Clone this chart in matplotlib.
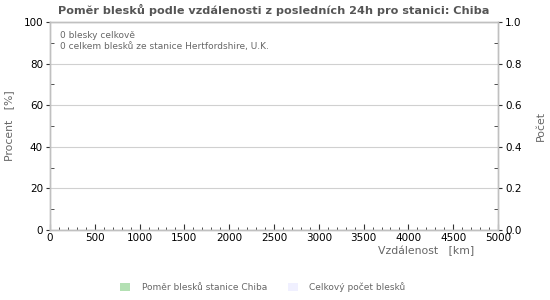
import matplotlib.pyplot as plt
import matplotlib.patches as mpatches
import numpy as np

# data: no lightning in the last 24h, so both series are empty
distance_km = np.arange(0, 5001, 100)
station_ratio = np.zeros(len(distance_km))
total_count = np.zeros(len(distance_km))

title = "Poměr blesků podle vzdálenosti z posledních 24h pro stanici: Chiba"
info_lines = ["0 blesky celkově", "0 celkem blesků ze stanice Hertfordshire, U.K."]
legend_labels = ["Poměr blesků stanice Chiba", "Celkový počet blesků"]

grey = "#c0c0c0"
text_grey = "#666666"

fig = plt.figure(figsize=(5.5, 3), dpi=100)
ax = fig.add_axes([50 / 550, 1 - 230 / 300, 448 / 550, 208 / 300])
ax2 = ax.twinx()

ax.bar(distance_km, station_ratio, width=100, color="#b3e0b3", align="edge")
ax2.plot(distance_km, total_count, alpha=0)

ax.set_xlim(0, 5000)
ax.set_ylim(0, 100)
ax2.set_ylim(0, 1)

ax.set_xticks(np.arange(0, 5001, 500))
ax.set_xticks(np.arange(0, 5001, 100), minor=True)
ax.set_yticks(np.arange(0, 101, 20))
ax.set_yticks(np.arange(10, 100, 20), minor=True)
ax2.set_yticks(np.arange(0, 1.01, 0.2))
ax2.set_yticklabels(["0.0", "0.2", "0.4", "0.6", "0.8", "1.0"])
ax2.set_yticks(np.arange(0.1, 1.0, 0.2), minor=True)

ax.grid(axis="y", color="#d0d0d0", linewidth=0.8)
ax.set_axisbelow(True)

for a in (ax, ax2):
    for s in a.spines.values():
        s.set_color(grey)
        s.set_linewidth(1)

ax.tick_params(axis="x", which="major", direction="in", length=4, color="#333333",
               labelsize=7.5, pad=2)
ax.tick_params(axis="x", which="minor", direction="in", length=2.5, color="#333333")
ax.tick_params(axis="y", which="major", direction="out", length=3, color="#333333",
               labelsize=7.5, pad=2)
ax.tick_params(axis="y", which="minor", direction="in", length=3, color="#333333")
ax2.tick_params(axis="y", which="major", direction="out", length=3, color="#333333",
                labelsize=7.5, pad=2)
ax2.tick_params(axis="y", which="minor", direction="in", length=3, color="#333333")

ax.set_title(title, fontsize=8.1, fontweight="bold", color="#555555", pad=6)
ax.set_ylabel("Procent   [%]", fontsize=7.8, color=text_grey)
ax.yaxis.set_label_coords(-36 / 448, 0.5)
ax2.set_ylabel("Počet", fontsize=7.8, color=text_grey)
ax2.yaxis.set_label_coords(1 + 38 / 448, 0.5)
ax.set_xlabel("Vzdálenost   [km]", fontsize=7.8, color=text_grey, labelpad=0)
ax.xaxis.set_label_coords(424 / 448, -0.075)
ax.xaxis.label.set_horizontalalignment("right")

ax.text(0.022, 0.955, "\n".join(info_lines), transform=ax.transAxes, fontsize=6.5,
        color=text_grey, va="top", ha="left", linespacing=1.2)

handles = [mpatches.Patch(facecolor="#b3e0b3", edgecolor="none"),
           mpatches.Patch(facecolor="#f0f0ff", edgecolor="none")]
fig.legend(handles, legend_labels, loc="center", bbox_to_anchor=(0.478, 1 - 287 / 300),
           ncol=2, frameon=False, fontsize=6.5, labelcolor=text_grey,
           handlelength=1.1, handleheight=1.1, columnspacing=2.3, handletextpad=1.3)

fig.savefig("out.png", dpi=100)
